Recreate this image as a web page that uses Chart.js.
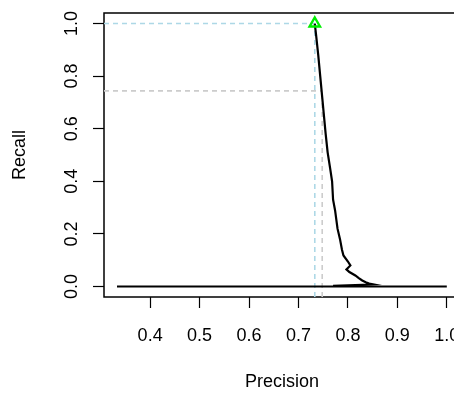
<!DOCTYPE html>
<html>
<head>
<meta charset="utf-8">
<script src="https://cdn.jsdelivr.net/npm/chart.js@4/dist/chart.umd.min.js"></script>
<style>
  html, body { margin: 0; padding: 0; background: #fff; overflow: hidden; }
  canvas { display: block; }
</style>
</head>
<body>
<canvas id="myChart" width="480" height="398"></canvas>
<script>
// precision / recall curve
const precision = [0.733, 0.736, 0.740, 0.744, 0.748, 0.751, 0.755, 0.759, 0.764, 0.768,
  0.770, 0.774, 0.779, 0.784, 0.788, 0.791, 0.800, 0.805, 0.797, 0.803,
  0.815, 0.822, 0.829, 0.836, 0.843, 0.851, 0.830, 0.800, 0.770];
const recall = [1.0, 0.95, 0.88, 0.80, 0.72, 0.66, 0.58, 0.51, 0.45, 0.40,
  0.33, 0.29, 0.22, 0.18, 0.14, 0.118, 0.095, 0.080, 0.065, 0.055,
  0.042, 0.032, 0.023, 0.016, 0.011, 0.008, 0.006, 0.004, 0.002];
// flat part at recall 0
const basePrecision = [0.333, 1.0];
const baseRecall = [0, 0];
// best point and cutoff guide
const bestPrecision = 0.733;
const bestRecall = 1.0;
const cutPrecision = 0.748;
const cutRecall = 0.744;

const xTicks = [0.4, 0.5, 0.6, 0.7, 0.8, 0.9, 1.0];
const yTicks = [0.0, 0.2, 0.4, 0.6, 0.8, 1.0];
const xMin = 0.3067, xMax = 1.0267;
const yMin = -0.04, yMax = 1.04;

const FONT = "'Liberation Sans', Arial, Helvetica, sans-serif";

const boxPlugin = {
  id: "box",
  beforeDatasetsDraw(chart) {
    const a = chart.chartArea;
    const c = chart.ctx;
    c.save();
    c.strokeStyle = "#000";
    c.lineWidth = 1.5;
    c.strokeRect(a.left, a.top, a.right - a.left, a.bottom - a.top);
    c.restore();
  },
};

const ctx = document.getElementById("myChart");
const myChart = new Chart(ctx, {
  type: "scatter",
  data: {
    datasets: [
      {
        label: "best",
        data: [{ x: bestPrecision, y: bestRecall }],
        pointStyle: "triangle",
        pointRadius: 6,
        borderColor: "#00ee00",
        backgroundColor: "rgba(0,0,0,0)",
        borderWidth: 2.4,
      },
      {
        label: "curve",
        data: precision.map((p, i) => ({ x: p, y: recall[i] })),
        showLine: true,
        borderColor: "#000",
        borderWidth: 2.2,
        pointRadius: 0,
        tension: 0,
      },
      {
        label: "base",
        data: basePrecision.map((p, i) => ({ x: p, y: baseRecall[i] })),
        showLine: true,
        borderColor: "#000",
        borderWidth: 2,
        pointRadius: 0,
      },
      {
        label: "bestV",
        data: [{ x: bestPrecision, y: yMin }, { x: bestPrecision, y: bestRecall }],
        showLine: true,
        borderColor: "#add8e6",
        borderWidth: 1.6,
        borderDash: [5, 4],
        pointRadius: 0,
      },
      {
        label: "bestH",
        data: [{ x: xMin, y: bestRecall }, { x: bestPrecision, y: bestRecall }],
        showLine: true,
        borderColor: "#add8e6",
        borderWidth: 1.6,
        borderDash: [5, 4],
        pointRadius: 0,
      },
      {
        label: "cutV",
        data: [{ x: cutPrecision, y: yMin }, { x: cutPrecision, y: cutRecall }],
        showLine: true,
        borderColor: "#cccccc",
        borderWidth: 1.6,
        borderDash: [5, 4],
        pointRadius: 0,
      },
      {
        label: "cutH",
        data: [{ x: xMin, y: cutRecall }, { x: cutPrecision, y: cutRecall }],
        showLine: true,
        borderColor: "#cccccc",
        borderWidth: 1.6,
        borderDash: [5, 4],
        pointRadius: 0,
      },
    ],
  },
  options: {
    responsive: false,
    animation: false,
    layout: { padding: { top: 13, right: 20, left: 0, bottom: 0 } },
    plugins: { legend: { display: false }, tooltip: { enabled: false } },
    scales: {
      x: {
        type: "linear",
        min: xMin,
        max: xMax,
        afterBuildTicks: (s) => { s.ticks = xTicks.map((v) => ({ value: v })); },
        afterFit: (s) => { s.height = 101; s.paddingLeft = 0; s.paddingRight = 0; },
        grid: { drawOnChartArea: false, drawTicks: true, tickLength: 11, color: "#000", tickWidth: 1.2 },
        border: { display: false },
        ticks: {
          color: "#000",
          font: { family: FONT, size: 18 },
          padding: 17,
          maxRotation: 0,
          autoSkip: false,
          callback: (v) => v.toFixed(1),
        },
        title: {
          display: true,
          text: "Precision",
          color: "#000",
          font: { family: FONT, size: 18 },
          padding: { top: 0, bottom: 5 },
        },
      },
      y: {
        type: "linear",
        min: yMin,
        max: yMax,
        afterBuildTicks: (s) => { s.ticks = yTicks.map((v) => ({ value: v })); },
        afterFit: (s) => { s.width = 104; s.paddingTop = 0; s.paddingBottom = 0; },
        grid: { drawOnChartArea: false, drawTicks: true, tickLength: 11, color: "#000", tickWidth: 1.2 },
        border: { display: false },
        ticks: {
          color: "#000",
          font: { family: FONT, size: 18 },
          padding: 8,
          minRotation: 90,
          maxRotation: 90,
          crossAlign: "center",
          autoSkip: false,
          callback: (v) => v.toFixed(1),
        },
        title: {
          display: true,
          text: "Recall",
          color: "#000",
          font: { family: FONT, size: 18 },
          padding: { top: 9, bottom: 0 },
        },
      },
    },
  },
  plugins: [boxPlugin],
});
</script>
</body>
</html>
